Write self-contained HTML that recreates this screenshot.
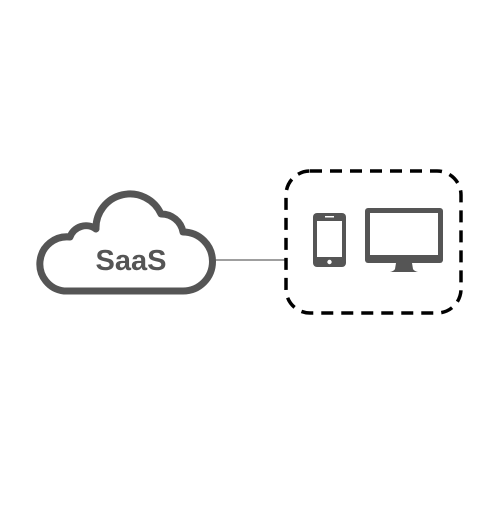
<!DOCTYPE html>
<html><head><style>html,body{margin:0;padding:0;background:#fff}</style></head>
<body>
<svg width="504" height="504" viewBox="0 0 504 504" xmlns="http://www.w3.org/2000/svg">
<rect width="504" height="504" fill="#fff"/>
<line x1="215" y1="260" x2="287" y2="260" stroke="#666" stroke-width="1.3"/>
<path d="M64,291 A27,27 0 0 1 70,237 A17,17 0 0 1 96,229 A34,34 0 0 1 161,214 A22,22 0 0 1 183,232 A29.5,29.5 0 0 1 183,291 Z" fill="none" stroke="#555" stroke-width="7" stroke-linejoin="round"/>
<text x="131" y="270" text-anchor="middle" font-family="Liberation Sans, sans-serif" font-weight="bold" font-size="29" fill="#555">SaaS</text>
<rect x="286" y="171" width="175" height="142" rx="24" fill="none" stroke="#000" stroke-width="3.5" stroke-dasharray="12,8"/>
<rect x="313" y="213" width="33" height="54" rx="4" fill="#555"/>
<rect x="317" y="221" width="25" height="36" fill="#fff"/>
<rect x="325" y="216" width="9" height="1.5" fill="#fff"/>
<circle cx="329.5" cy="262" r="2.2" fill="#fff"/>
<rect x="365" y="208" width="78" height="55" rx="3" fill="#555"/>
<rect x="370" y="213" width="68" height="42" fill="#fff"/>
<path d="M396,263 H412 L413,269 Q414,271 418,272 H390 Q394,271 395,269 Z" fill="#555"/>
</svg>
</body></html>
